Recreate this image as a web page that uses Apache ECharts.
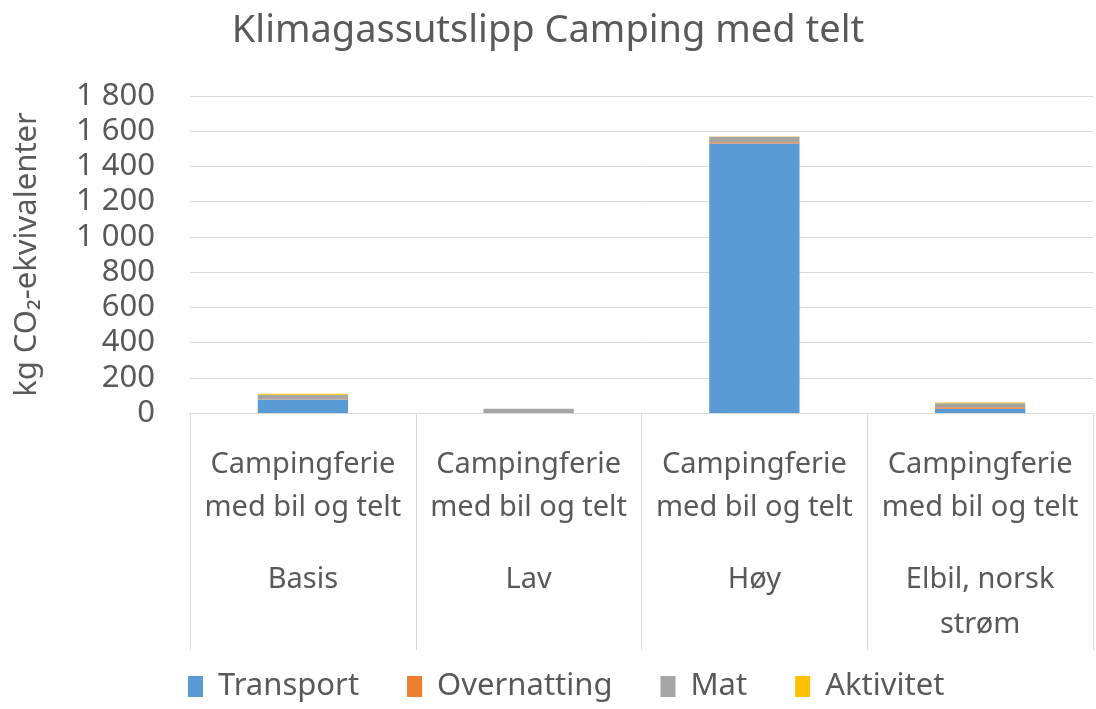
<!DOCTYPE html>
<html>
<head>
<meta charset="utf-8">
<script src="https://cdn.jsdelivr.net/npm/echarts@6/dist/echarts.min.js"></script>
<style>
  html, body { margin: 0; padding: 0; background: #fff; }
  #chart { width: 1096px; height: 709px; }
</style>
</head>
<body>
<div id="chart"></div>
<script>
// Verdier (kg CO2-ekv.)
const scenarios = ["Basis", "Lav", "Høy", "Elbil, norsk\nstrøm"];
const innerLabel = "Campingferie\nmed bil og telt";
const transport = [75, 0, 1530, 24];
const overnatting = [2, 0, 8, 8];
const mat = [27, 24, 30, 23];
const aktivitet = [6, 0, 2, 5];
const yTicks = { min: 0, max: 1800, step: 200 };

const FONT = "Noto Sans";
const GREY = "#595959";

const el = document.getElementById("chart");
const chart = echarts.init(el, null, { renderer: "canvas" });

function bar(name, data, color) {
  return {
    name, type: "bar", stack: "tot", data,
    barWidth: "40%",
    itemStyle: { color },
    emphasis: { disabled: true }
  };
}

chart.setOption({
  animation: false,
  textStyle: { fontFamily: FONT },
  title: {
    text: "Klimagassutslipp Camping med telt",
    left: "center", top: 7,
    textStyle: { fontFamily: FONT, fontSize: 38, fontWeight: "normal", color: GREY }
  },
  grid: { left: 190, right: 3, top: 96, bottom: 296, containLabel: false, outerBoundsMode: "none" },
  legend: {
    bottom: 2, left: 183,
    itemWidth: 15, itemHeight: 21, itemGap: 48,
    icon: "rect",
    textStyle: { fontFamily: FONT, fontSize: 31, color: GREY, padding: [0, 0, 0, 10] },
    data: ["Transport", "Overnatting", "Mat", "Aktivitet"]
  },
  xAxis: [
    {
      type: "category",
      data: scenarios.map(() => innerLabel),
      axisLine: { lineStyle: { color: "#d9d9d9" } },
      axisTick: { show: true, length: 237, interval: 0, lineStyle: { color: "#d9d9d9" } },
      axisLabel: {
        interval: 0, margin: 30, lineHeight: 43,
        fontFamily: FONT, fontSize: 29, color: GREY
      }
    },
    {
      type: "category", position: "bottom",
      data: scenarios,
      axisLine: { show: false },
      axisTick: { show: false },
      axisLabel: {
        interval: 0, margin: 144, lineHeight: 45,
        fontFamily: FONT, fontSize: 29, color: GREY
      }
    }
  ],
  yAxis: {
    type: "value",
    min: yTicks.min, max: yTicks.max, interval: yTicks.step,
    name: "kg CO₂-ekvivalenter",
    nameLocation: "middle", nameGap: 147, nameRotate: 90,
    nameTextStyle: { fontFamily: FONT, fontSize: 31, color: GREY },
    axisLine: { show: false },
    axisTick: { show: false },
    splitLine: { lineStyle: { color: "#d9d9d9" } },
    axisLabel: {
      margin: 35, fontFamily: FONT, fontSize: 31, color: GREY,
      formatter: (v) => String(v).replace(/\B(?=(\d{3})+(?!\d))/g, " ")
    }
  },
  series: [
    bar("Transport", transport, "#5B9BD5"),
    bar("Overnatting", overnatting, "#ED7D31"),
    bar("Mat", mat, "#A5A5A5"),
    bar("Aktivitet", aktivitet, "#FFC000")
  ]
});
</script>
</body>
</html>
